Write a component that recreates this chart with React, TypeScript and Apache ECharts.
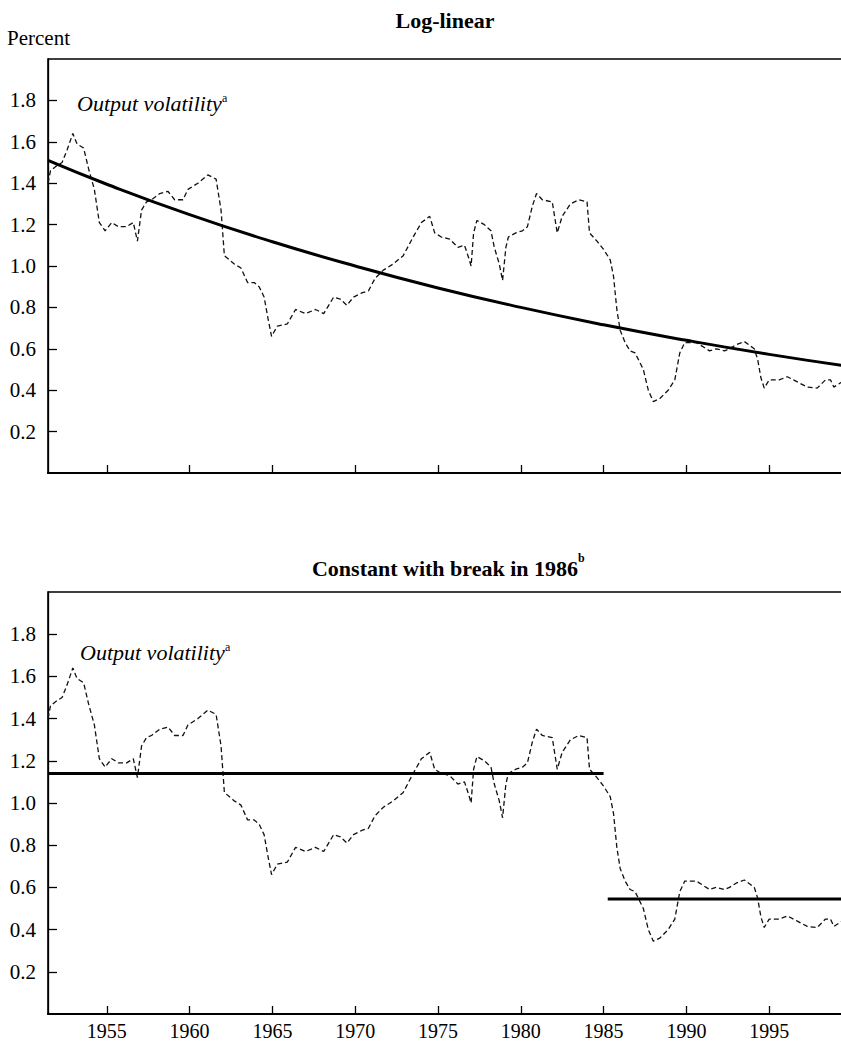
import React, { useEffect, useRef } from "react";
import * as echarts from "echarts";

// Output volatility (percent)
const years = [
  1951.45, 1951.6, 1951.9, 1952.3, 1952.6, 1952.95, 1953.2, 1953.6, 1953.9, 1954.25,
  1954.55, 1954.9, 1955.3, 1955.7, 1956.2, 1956.6, 1956.85, 1957.1, 1957.4, 1957.7,
  1958.2, 1958.7, 1959.1, 1959.6, 1959.9, 1960.5, 1961.1, 1961.6, 1961.9, 1962.1,
  1962.7, 1963.1, 1963.5, 1963.9, 1964.2, 1964.5, 1964.75, 1964.95, 1965.3, 1965.9,
  1966.4, 1967.0, 1967.6, 1968.1, 1968.7, 1969.1, 1969.5, 1969.9, 1970.4, 1970.8,
  1971.2, 1971.7, 1972.3, 1972.9, 1973.5, 1974.0, 1974.5, 1974.8, 1975.2, 1975.7,
  1976.2, 1976.6, 1976.85, 1977.0, 1977.15, 1977.35, 1977.8, 1978.2, 1978.4, 1978.7,
  1978.9, 1979.1, 1979.25, 1979.7, 1980.1, 1980.4, 1980.7, 1980.95, 1981.3, 1981.9,
  1982.2, 1982.5, 1983.0, 1983.5, 1984.0, 1984.15, 1984.6, 1985.0, 1985.4, 1985.6,
  1985.8, 1986.0, 1986.3, 1986.6, 1986.9, 1987.4, 1987.7, 1988.0, 1988.4, 1988.9,
  1989.3, 1989.6, 1989.9, 1990.6, 1991.4, 1991.8, 1992.3, 1992.6, 1993.0, 1993.5,
  1994.1, 1994.3, 1994.5, 1994.7, 1995.0, 1995.6, 1996.1, 1996.7, 1997.3, 1997.9,
  1998.4, 1998.7, 1998.9, 1999.2, 1999.6,
];
const volatility = [
  1.40, 1.46, 1.48, 1.50, 1.56, 1.64, 1.59, 1.57, 1.47, 1.37,
  1.21, 1.17, 1.21, 1.19, 1.19, 1.21, 1.12, 1.27, 1.31, 1.32,
  1.35, 1.36, 1.32, 1.32, 1.37, 1.40, 1.44, 1.42, 1.27, 1.05,
  1.01, 0.99, 0.92, 0.92, 0.90, 0.85, 0.74, 0.66, 0.71, 0.72,
  0.79, 0.77, 0.79, 0.77, 0.85, 0.84, 0.81, 0.85, 0.87, 0.88,
  0.94, 0.98, 1.01, 1.05, 1.14, 1.21, 1.24, 1.16, 1.14, 1.13,
  1.09, 1.10, 1.04, 1.00, 1.16, 1.22, 1.20, 1.17, 1.09, 1.01,
  0.93, 1.09, 1.14, 1.16, 1.17, 1.19, 1.29, 1.35, 1.32, 1.31,
  1.16, 1.24, 1.30, 1.32, 1.31, 1.16, 1.12, 1.08, 1.03, 0.95,
  0.79, 0.69, 0.63, 0.59, 0.58, 0.50, 0.40, 0.345, 0.36, 0.40,
  0.45, 0.58, 0.63, 0.63, 0.59, 0.60, 0.59, 0.60, 0.62, 0.635,
  0.60, 0.55, 0.46, 0.41, 0.45, 0.45, 0.465, 0.44, 0.415, 0.41,
  0.45, 0.45, 0.415, 0.43, 0.45,
];

// Log-linear trend, read at a few points
const trendYears = [1951.45, 1955, 1960, 1965, 1970, 1975, 1980, 1985, 1990, 1995, 2000];
const trendValues = [1.51, 1.395, 1.248, 1.117, 1.0, 0.894, 0.8, 0.716, 0.641, 0.573, 0.513];

// Constant with break
const preBreakYears = [1951.45, 1985.0];
const preBreakLevel = 1.14;
const postBreakYears = [1985.25, 2000];
const postBreakLevel = 0.545;

const xTicks = [1955, 1960, 1965, 1970, 1975, 1980, 1985, 1990, 1995];
const yTicks = [0.2, 0.4, 0.6, 0.8, 1.0, 1.2, 1.4, 1.6, 1.8];

const FONT = "'Liberation Serif', 'Times New Roman', serif";
const X_MIN = 1951.45;
const X_MAX = 2000;

export default function App() {
  const ref = useRef<HTMLDivElement>(null);

  useEffect(() => {
    if (!ref.current) return;
    const chart = echarts.init(ref.current, undefined, { renderer: "svg" });

    const volData = years.map((y, i) => [y, volatility[i]]);
    const trendData = trendYears.map((y, i) => [y, trendValues[i]]);
    const preData = preBreakYears.map((y) => [y, preBreakLevel]);
    const postData = postBreakYears.map((y) => [y, postBreakLevel]);

    const mkX = (i: number) => ({
      type: "value",
      gridIndex: i,
      min: X_MIN,
      max: X_MAX,
      axisLine: { show: true, onZero: false, lineStyle: { color: "#000", width: 2.2 } },
      axisTick: {
        show: true,
        inside: true,
        length: 8,
        customValues: xTicks,
        lineStyle: { color: "#000", width: 1.3 },
      },
      axisLabel: {
        show: i === 1,
        customValues: xTicks,
        formatter: (v: number) => String(Math.round(v)),
        color: "#000",
        fontFamily: FONT,
        fontSize: 20,
        margin: 7,
      },
      splitLine: { show: false },
    });

    const mkY = (i: number) => ({
      type: "value",
      gridIndex: i,
      min: 0,
      max: 2,
      interval: 0.2,
      axisLine: { show: true, lineStyle: { color: "#000", width: 1.3 } },
      axisTick: {
        show: true,
        inside: true,
        length: 9,
        customValues: yTicks,
        lineStyle: { color: "#000", width: 1.3 },
      },
      axisLabel: {
        customValues: yTicks,
        formatter: (v: number) => v.toFixed(1),
        color: "#000",
        fontFamily: FONT,
        fontSize: 21,
        margin: 12,
      },
      splitLine: { show: false },
    });

    const dashed = {
      type: "line",
      showSymbol: false,
      symbol: "none",
      lineStyle: { color: "#111", width: 1.3, type: [5, 3] },
      z: 3,
    };
    const solid = {
      type: "line",
      showSymbol: false,
      symbol: "none",
      lineStyle: { color: "#000", width: 3 },
      z: 4,
    };

    const txt = (x: number, y: number, text: string, style: any) => ({
      type: "text",
      x,
      y,
      style: { text, fill: "#000", fontFamily: FONT, ...style },
    });

    chart.setOption({
      animation: false,
      backgroundColor: "#fff",
      grid: [
        { left: 48, top: 59, width: 804, height: 414, show: true, borderColor: "#000", borderWidth: 1.6, backgroundColor: "transparent" },
        { left: 48, top: 592, width: 804, height: 423, show: true, borderColor: "#000", borderWidth: 1.6, backgroundColor: "transparent" },
      ],
      xAxis: [mkX(0), mkX(1)],
      yAxis: [mkY(0), mkY(1)],
      series: [
        { ...dashed, name: "Output volatility", xAxisIndex: 0, yAxisIndex: 0, data: volData },
        { ...solid, name: "Log-linear", xAxisIndex: 0, yAxisIndex: 0, smooth: true, data: trendData },
        { ...dashed, name: "Output volatility (2)", xAxisIndex: 1, yAxisIndex: 1, data: volData },
        { ...solid, name: "Constant before break", xAxisIndex: 1, yAxisIndex: 1, data: preData },
        { ...solid, name: "Constant after break", xAxisIndex: 1, yAxisIndex: 1, data: postData },
      ],
      graphic: [
        txt(7, 38, "Percent", { fontSize: 21, textVerticalAlign: "middle" }),
        txt(445, 20, "Log-linear", { fontSize: 22, fontWeight: "bold", textAlign: "center", textVerticalAlign: "middle" }),
        txt(445, 568, "Constant with break in 1986", { fontSize: 22, fontWeight: "bold", textAlign: "center", textVerticalAlign: "middle" }),
        txt(578, 558, "b", { fontSize: 12, fontWeight: "bold", textAlign: "left", textVerticalAlign: "middle" }),
        txt(77, 103, "Output volatility", { fontSize: 22, fontStyle: "italic", textVerticalAlign: "middle" }),
        txt(222, 98, "a", { fontSize: 12, textVerticalAlign: "middle" }),
        txt(80, 652, "Output volatility", { fontSize: 22, fontStyle: "italic", textVerticalAlign: "middle" }),
        txt(225, 647, "a", { fontSize: 12, textVerticalAlign: "middle" }),
      ],
    });

    return () => chart.dispose();
  }, []);

  return (
    <div style={{ position: "absolute", left: 0, top: 0, width: 841, height: 1041, overflow: "hidden", background: "#fff" }}>
      <div ref={ref} style={{ width: 880, height: 1041 }} />
    </div>
  );
}
